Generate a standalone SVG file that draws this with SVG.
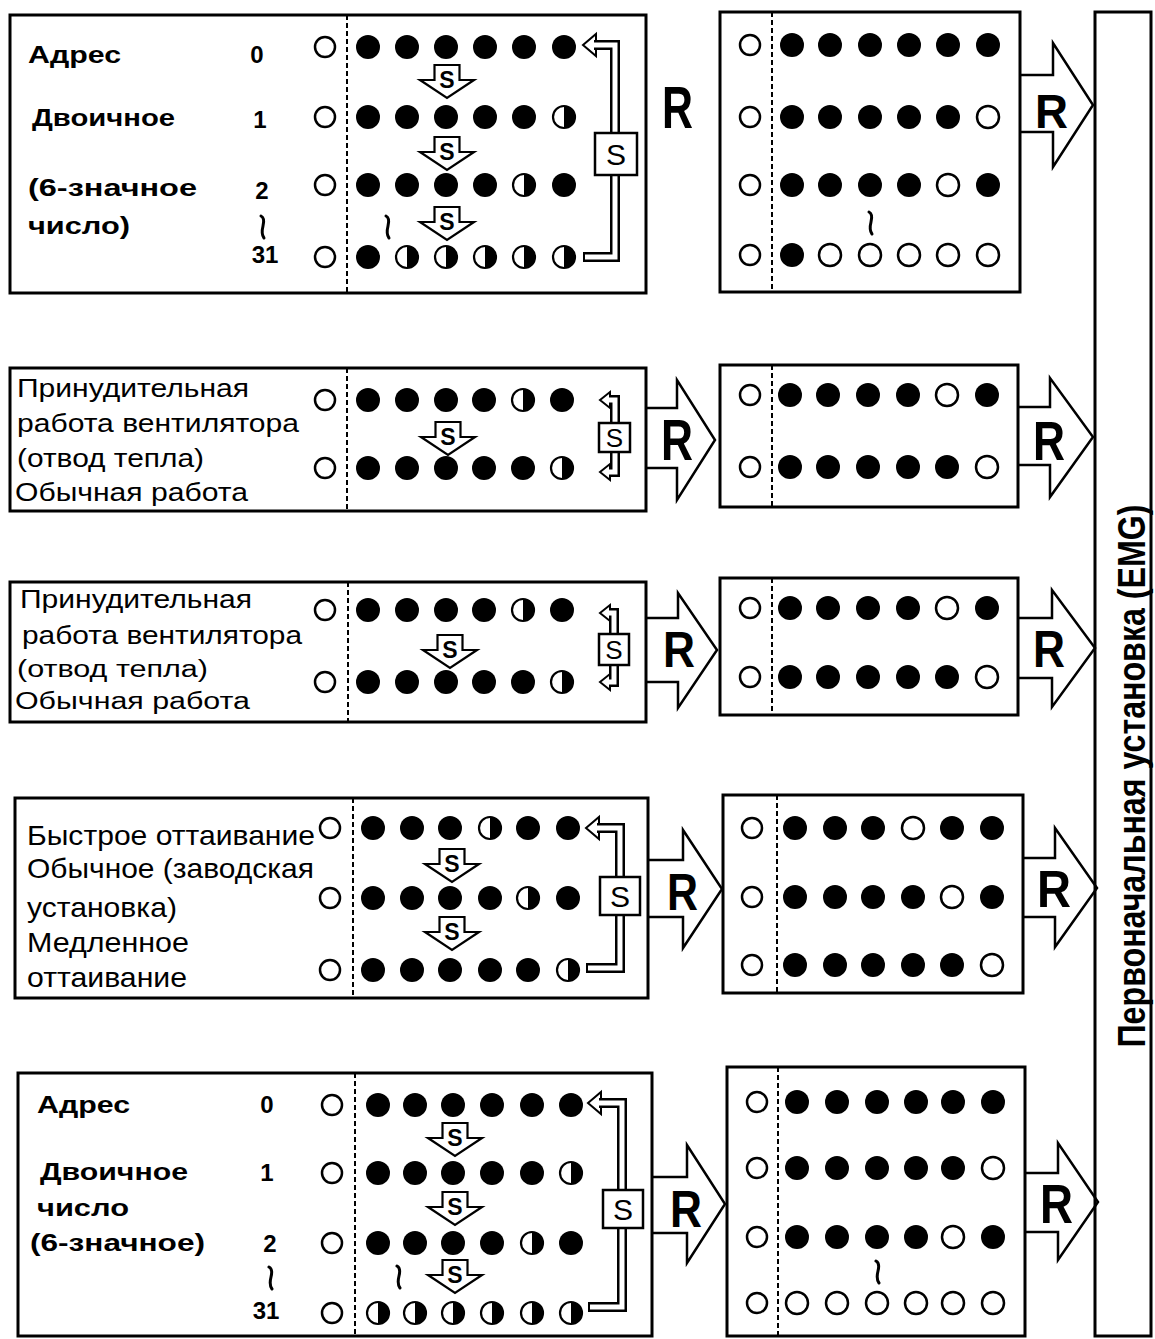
<svg xmlns="http://www.w3.org/2000/svg" xmlns:xlink="http://www.w3.org/1999/xlink" width="1155" height="1339" viewBox="0 0 1155 1339">
<style>
.box{fill:none;stroke:#000;stroke-width:3}
.sep{stroke:#000;stroke-width:2;stroke-dasharray:5 3}
.arr{fill:#fff;stroke:#000;stroke-width:2.5;stroke-linejoin:miter}
.bk{fill:none;stroke:#000;stroke-width:10}
.bw{fill:none;stroke:#fff;stroke-width:5}
.ah{fill:#fff;stroke:#000;stroke-width:2}
.sbox{fill:#fff;stroke:#000;stroke-width:2.5}
.sq{fill:none;stroke:#000;stroke-width:3;stroke-linecap:round}
.b{font-family:"Liberation Sans",Arial,sans-serif;font-weight:bold;fill:#000}
.n{font-family:"Liberation Sans",Arial,sans-serif;font-weight:normal;fill:#000}
.r{font-family:"Liberation Sans",Arial,sans-serif;font-weight:bold;fill:#000}
</style>
<defs>
<circle id="f" r="12" fill="#000"/>
<circle id="o" r="10" fill="#fff" stroke="#000" stroke-width="2.5"/>
<circle id="om" r="11" fill="#fff" stroke="#000" stroke-width="2.5"/>
<g id="h"><circle r="11" fill="#fff" stroke="#000" stroke-width="2.2"/><path d="M0,-11 A11,11 0 0 1 0,11 Z" fill="#000"/></g>
<g id="sd"><path d="M-12.5,0 H12.5 V15 H27 L0,33 L-27,15 H-12.5 Z" fill="#fff" stroke="#000" stroke-width="2.2"/><text x="0" y="23" class="b" font-size="23" text-anchor="middle">S</text></g>
</defs>

<g id="connectors">
<path class="arr" d="M1020,75 H1053 V43 L1093,105 L1053,167 V132 H1020"/>
<path class="arr" d="M646,408 H677 V380 L715,440 L677,500 V468 H646"/>
<path class="arr" d="M1018,407 H1050 V378 L1093,437 L1050,497 V465 H1018"/>
<path class="arr" d="M646,618 H678 V593 L717,650 L678,708 V682 H646"/>
<path class="arr" d="M1018,618 H1052 V590 L1095,648 L1052,707 V678 H1018"/>
<path class="arr" d="M648,860 H683 V830 L722,889 L683,948 V917 H648"/>
<path class="arr" d="M1023,858 H1055 V828 L1097,888 L1055,947 V917 H1023"/>
<path class="arr" d="M652,1177 H687 V1145 L725,1204 L687,1263 V1233 H652"/>
<path class="arr" d="M1025,1173 H1058 V1143 L1098,1202 L1058,1260 V1232 H1025"/>
<text class="r" x="662" y="128" font-size="60" textLength="31" lengthAdjust="spacingAndGlyphs">R</text>
<text class="r" x="1035" y="128" font-size="49" textLength="33" lengthAdjust="spacingAndGlyphs">R</text>
<text class="r" x="661" y="460" font-size="58" textLength="32" lengthAdjust="spacingAndGlyphs">R</text>
<text class="r" x="1033" y="460" font-size="56" textLength="32" lengthAdjust="spacingAndGlyphs">R</text>
<text class="r" x="663" y="667" font-size="50" textLength="32" lengthAdjust="spacingAndGlyphs">R</text>
<text class="r" x="1033" y="667" font-size="52" textLength="32" lengthAdjust="spacingAndGlyphs">R</text>
<text class="r" x="667" y="910" font-size="52" textLength="31" lengthAdjust="spacingAndGlyphs">R</text>
<text class="r" x="1037" y="907" font-size="52" textLength="34" lengthAdjust="spacingAndGlyphs">R</text>
<text class="r" x="670" y="1227" font-size="52" textLength="32" lengthAdjust="spacingAndGlyphs">R</text>
<text class="r" x="1040" y="1223" font-size="56" textLength="33" lengthAdjust="spacingAndGlyphs">R</text>
</g>

<g id="emg">
<rect class="box" x="1095" y="12" width="56" height="1324"/>
<text class="b" transform="translate(1145,776) rotate(-90)" font-size="38" text-anchor="middle" textLength="543" lengthAdjust="spacingAndGlyphs">Первоначальная установка (EMG)</text>
</g>

<g id="row1-left">
<rect class="box" x="10" y="15" width="636" height="278"/>
<line class="sep" x1="347" y1="15" x2="347" y2="293"/>
<text class="b" x="28" y="63" font-size="24" textLength="93" lengthAdjust="spacingAndGlyphs">Адрес</text>
<text class="b" x="32" y="126" font-size="24" textLength="143" lengthAdjust="spacingAndGlyphs">Двоичное</text>
<text class="b" x="28" y="196" font-size="24" textLength="169" lengthAdjust="spacingAndGlyphs">(6-значное</text>
<text class="b" x="28" y="234" font-size="24" textLength="102" lengthAdjust="spacingAndGlyphs">число)</text>
<text class="b" x="257" y="63" font-size="24" text-anchor="middle">0</text>
<text class="b" x="260" y="128" font-size="24" text-anchor="middle">1</text>
<text class="b" x="262" y="199" font-size="24" text-anchor="middle">2</text>
<text class="b" x="265" y="263" font-size="24" text-anchor="middle">31</text>
<path class="sq" d="M261,216 q4,2 2,10 q-2,8 1,12"/>
<path class="sq" d="M386,216 q4,2 2,10 q-2,8 1,12"/>
<use href="#o" x="325" y="47"/><use href="#o" x="325" y="117"/><use href="#o" x="325" y="185"/><use href="#o" x="325" y="257"/>
<use href="#f" x="368" y="47"/><use href="#f" x="407" y="47"/><use href="#f" x="446" y="47"/><use href="#f" x="485" y="47"/><use href="#f" x="524" y="47"/><use href="#f" x="564" y="47"/>
<use href="#f" x="368" y="117"/><use href="#f" x="407" y="117"/><use href="#f" x="446" y="117"/><use href="#f" x="485" y="117"/><use href="#f" x="524" y="117"/><use href="#h" x="564" y="117"/>
<use href="#f" x="368" y="185"/><use href="#f" x="407" y="185"/><use href="#f" x="446" y="185"/><use href="#f" x="485" y="185"/><use href="#h" x="524" y="185"/><use href="#f" x="564" y="185"/>
<use href="#f" x="368" y="257"/><use href="#h" x="407" y="257"/><use href="#h" x="446" y="257"/><use href="#h" x="485" y="257"/><use href="#h" x="524" y="257"/><use href="#h" x="564" y="257"/>
<use href="#sd" x="447" y="65"/><use href="#sd" x="447" y="137"/><use href="#sd" x="447" y="207"/>
<path class="ah" d="M583,45 L596,34 V56 Z"/>
<path class="bk" d="M594,45 H615 V257 H583"/>
<path class="bw" d="M594,45 H615 V257 H585"/>
<rect class="sbox" x="595" y="133" width="42" height="42"/>
<text class="n" x="616" y="165" font-size="30" text-anchor="middle">S</text>
</g>

<g id="row1-mid">
<rect class="box" x="720" y="12" width="300" height="280"/>
<line class="sep" x1="772" y1="12" x2="772" y2="292"/>
<path class="sq" d="M869,212 q4,2 2,10 q-2,8 1,12"/>
<use href="#o" x="750" y="45"/><use href="#o" x="750" y="117"/><use href="#o" x="750" y="185"/><use href="#o" x="750" y="255"/>
<use href="#f" x="792" y="45"/><use href="#f" x="830" y="45"/><use href="#f" x="870" y="45"/><use href="#f" x="909" y="45"/><use href="#f" x="948" y="45"/><use href="#f" x="988" y="45"/>
<use href="#f" x="792" y="117"/><use href="#f" x="830" y="117"/><use href="#f" x="870" y="117"/><use href="#f" x="909" y="117"/><use href="#f" x="948" y="117"/><use href="#om" x="988" y="117"/>
<use href="#f" x="792" y="185"/><use href="#f" x="830" y="185"/><use href="#f" x="870" y="185"/><use href="#f" x="909" y="185"/><use href="#om" x="948" y="185"/><use href="#f" x="988" y="185"/>
<use href="#f" x="792" y="255"/><use href="#om" x="830" y="255"/><use href="#om" x="870" y="255"/><use href="#om" x="909" y="255"/><use href="#om" x="948" y="255"/><use href="#om" x="988" y="255"/>
</g>

<g id="row2-left">
<rect class="box" x="10" y="368" width="636" height="143"/>
<line class="sep" x1="347" y1="368" x2="347" y2="511"/>
<text class="n" x="17" y="397" font-size="25" textLength="232" lengthAdjust="spacingAndGlyphs">Принудительная</text>
<text class="n" x="17" y="432" font-size="25" textLength="282" lengthAdjust="spacingAndGlyphs">работа вентилятора</text>
<text class="n" x="17" y="467" font-size="25" textLength="187" lengthAdjust="spacingAndGlyphs">(отвод тепла)</text>
<text class="n" x="15" y="501" font-size="25" textLength="233" lengthAdjust="spacingAndGlyphs">Обычная работа</text>
<use href="#o" x="325" y="400"/><use href="#o" x="325" y="468"/>
<use href="#f" x="368" y="400"/><use href="#f" x="407" y="400"/><use href="#f" x="446" y="400"/><use href="#f" x="484" y="400"/><use href="#h" x="523" y="400"/><use href="#f" x="562" y="400"/>
<use href="#f" x="368" y="468"/><use href="#f" x="407" y="468"/><use href="#f" x="446" y="468"/><use href="#f" x="484" y="468"/><use href="#f" x="523" y="468"/><use href="#h" x="562" y="468"/>
<use href="#sd" x="448" y="422"/>
<path class="ah" d="M600,400 L610,392 V408 Z"/>
<path class="bk" d="M609,400 H615 V424"/>
<path class="bw" d="M609,400 H615 V424"/>
<path class="ah" d="M600,472 L610,464 V480 Z"/>
<path class="bk" d="M615,451 V472 H609"/>
<path class="bw" d="M615,451 V472 H609"/>
<rect class="sbox" x="599" y="423" width="31" height="29"/>
<text class="n" x="614.5" y="447" font-size="26" text-anchor="middle">S</text>
</g>

<g id="row2-mid">
<rect class="box" x="720" y="365" width="298" height="142"/>
<line class="sep" x1="772" y1="365" x2="772" y2="507"/>
<use href="#o" x="750" y="395"/><use href="#o" x="750" y="467"/>
<use href="#f" x="790" y="395"/><use href="#f" x="828" y="395"/><use href="#f" x="868" y="395"/><use href="#f" x="908" y="395"/><use href="#om" x="947" y="395"/><use href="#f" x="987" y="395"/>
<use href="#f" x="790" y="467"/><use href="#f" x="828" y="467"/><use href="#f" x="868" y="467"/><use href="#f" x="908" y="467"/><use href="#f" x="947" y="467"/><use href="#om" x="987" y="467"/>
</g>

<g id="row3-left">
<rect class="box" x="10" y="582" width="636" height="140"/>
<line class="sep" x1="348" y1="582" x2="348" y2="722"/>
<text class="n" x="20" y="608" font-size="25" textLength="232" lengthAdjust="spacingAndGlyphs">Принудительная</text>
<text class="n" x="22" y="644" font-size="25" textLength="280" lengthAdjust="spacingAndGlyphs">работа вентилятора</text>
<text class="n" x="17" y="677" font-size="23" textLength="191" lengthAdjust="spacingAndGlyphs">(отвод тепла)</text>
<text class="n" x="15" y="709" font-size="23" textLength="235" lengthAdjust="spacingAndGlyphs">Обычная работа</text>
<use href="#o" x="325" y="610"/><use href="#o" x="325" y="682"/>
<use href="#f" x="368" y="610"/><use href="#f" x="407" y="610"/><use href="#f" x="446" y="610"/><use href="#f" x="484" y="610"/><use href="#h" x="523" y="610"/><use href="#f" x="562" y="610"/>
<use href="#f" x="368" y="682"/><use href="#f" x="407" y="682"/><use href="#f" x="446" y="682"/><use href="#f" x="484" y="682"/><use href="#f" x="523" y="682"/><use href="#h" x="562" y="682"/>
<use href="#sd" x="450" y="635"/>
<path class="ah" d="M600,613 L610,605 V621 Z"/>
<path class="bk" d="M609,613 H614 V635"/>
<path class="bw" d="M609,613 H614 V635"/>
<path class="ah" d="M600,682 L610,674 V690 Z"/>
<path class="bk" d="M614,664 V682 H609"/>
<path class="bw" d="M614,664 V682 H609"/>
<rect class="sbox" x="599" y="634" width="30" height="31"/>
<text class="n" x="614" y="659" font-size="26" text-anchor="middle">S</text>
</g>

<g id="row3-mid">
<rect class="box" x="720" y="578" width="298" height="137"/>
<line class="sep" x1="772" y1="578" x2="772" y2="715"/>
<use href="#o" x="750" y="608"/><use href="#o" x="750" y="677"/>
<use href="#f" x="790" y="608"/><use href="#f" x="828" y="608"/><use href="#f" x="868" y="608"/><use href="#f" x="908" y="608"/><use href="#om" x="947" y="608"/><use href="#f" x="987" y="608"/>
<use href="#f" x="790" y="677"/><use href="#f" x="828" y="677"/><use href="#f" x="868" y="677"/><use href="#f" x="908" y="677"/><use href="#f" x="947" y="677"/><use href="#om" x="987" y="677"/>
</g>

<g id="row4-left">
<rect class="box" x="15" y="798" width="633" height="200"/>
<line class="sep" x1="353" y1="798" x2="353" y2="998"/>
<text class="n" x="27" y="845" font-size="28" textLength="288" lengthAdjust="spacingAndGlyphs">Быстрое оттаивание</text>
<text class="n" x="27" y="878" font-size="28" textLength="287" lengthAdjust="spacingAndGlyphs">Обычное (заводская</text>
<text class="n" x="27" y="917" font-size="28" textLength="150" lengthAdjust="spacingAndGlyphs">установка)</text>
<text class="n" x="27" y="952" font-size="28" textLength="162" lengthAdjust="spacingAndGlyphs">Медленное</text>
<text class="n" x="27" y="987" font-size="28" textLength="160" lengthAdjust="spacingAndGlyphs">оттаивание</text>
<use href="#o" x="330" y="828"/><use href="#o" x="330" y="898"/><use href="#o" x="330" y="970"/>
<use href="#f" x="373" y="828"/><use href="#f" x="412" y="828"/><use href="#f" x="450" y="828"/><use href="#h" x="490" y="828"/><use href="#f" x="528" y="828"/><use href="#f" x="568" y="828"/>
<use href="#f" x="373" y="898"/><use href="#f" x="412" y="898"/><use href="#f" x="450" y="898"/><use href="#f" x="490" y="898"/><use href="#h" x="528" y="898"/><use href="#f" x="568" y="898"/>
<use href="#f" x="373" y="970"/><use href="#f" x="412" y="970"/><use href="#f" x="450" y="970"/><use href="#f" x="490" y="970"/><use href="#f" x="528" y="970"/><use href="#h" x="568" y="970"/>
<use href="#sd" x="452" y="849"/><use href="#sd" x="452" y="917"/>
<path class="ah" d="M586,828 L599,817 V839 Z"/>
<path class="bk" d="M597,828 H620 V968 H586"/>
<path class="bw" d="M597,828 H620 V968 H588"/>
<rect class="sbox" x="600" y="877" width="40" height="38"/>
<text class="n" x="620" y="907" font-size="30" text-anchor="middle">S</text>
</g>

<g id="row4-mid">
<rect class="box" x="723" y="795" width="300" height="198"/>
<line class="sep" x1="777" y1="795" x2="777" y2="993"/>
<use href="#o" x="752" y="828"/><use href="#o" x="752" y="897"/><use href="#o" x="752" y="965"/>
<use href="#f" x="795" y="828"/><use href="#f" x="835" y="828"/><use href="#f" x="873" y="828"/><use href="#om" x="913" y="828"/><use href="#f" x="952" y="828"/><use href="#f" x="992" y="828"/>
<use href="#f" x="795" y="897"/><use href="#f" x="835" y="897"/><use href="#f" x="873" y="897"/><use href="#f" x="913" y="897"/><use href="#om" x="952" y="897"/><use href="#f" x="992" y="897"/>
<use href="#f" x="795" y="965"/><use href="#f" x="835" y="965"/><use href="#f" x="873" y="965"/><use href="#f" x="913" y="965"/><use href="#f" x="952" y="965"/><use href="#om" x="992" y="965"/>
</g>

<g id="row5-left">
<rect class="box" x="18" y="1073" width="634" height="263"/>
<line class="sep" x1="355" y1="1073" x2="355" y2="1336"/>
<text class="b" x="37" y="1113" font-size="24" textLength="93" lengthAdjust="spacingAndGlyphs">Адрес</text>
<text class="b" x="40" y="1180" font-size="24" textLength="148" lengthAdjust="spacingAndGlyphs">Двоичное</text>
<text class="b" x="37" y="1216" font-size="24" textLength="92" lengthAdjust="spacingAndGlyphs">число</text>
<text class="b" x="30" y="1251" font-size="24" textLength="175" lengthAdjust="spacingAndGlyphs">(6-значное)</text>
<text class="b" x="267" y="1113" font-size="24" text-anchor="middle">0</text>
<text class="b" x="267" y="1181" font-size="24" text-anchor="middle">1</text>
<text class="b" x="270" y="1252" font-size="24" text-anchor="middle">2</text>
<text class="b" x="266" y="1319" font-size="24" text-anchor="middle">31</text>
<path class="sq" d="M269,1267 q4,2 2,10 q-2,8 1,12"/>
<path class="sq" d="M397,1266 q4,2 2,10 q-2,8 1,12"/>
<use href="#o" x="332" y="1105"/><use href="#o" x="332" y="1173"/><use href="#o" x="332" y="1243"/><use href="#o" x="332" y="1313"/>
<use href="#f" x="378" y="1105"/><use href="#f" x="415" y="1105"/><use href="#f" x="453" y="1105"/><use href="#f" x="492" y="1105"/><use href="#f" x="532" y="1105"/><use href="#f" x="571" y="1105"/>
<use href="#f" x="378" y="1173"/><use href="#f" x="415" y="1173"/><use href="#f" x="453" y="1173"/><use href="#f" x="492" y="1173"/><use href="#f" x="532" y="1173"/><use href="#h" x="571" y="1173"/>
<use href="#f" x="378" y="1243"/><use href="#f" x="415" y="1243"/><use href="#f" x="453" y="1243"/><use href="#f" x="492" y="1243"/><use href="#h" x="532" y="1243"/><use href="#f" x="571" y="1243"/>
<use href="#h" x="378" y="1313"/><use href="#h" x="415" y="1313"/><use href="#h" x="453" y="1313"/><use href="#h" x="492" y="1313"/><use href="#h" x="532" y="1313"/><use href="#h" x="571" y="1313"/>
<use href="#sd" x="455" y="1123"/><use href="#sd" x="455" y="1192"/><use href="#sd" x="455" y="1260"/>
<path class="ah" d="M588,1103 L601,1092 V1114 Z"/>
<path class="bk" d="M599,1103 H622 V1307 H588"/>
<path class="bw" d="M599,1103 H622 V1307 H590"/>
<rect class="sbox" x="603" y="1190" width="40" height="38"/>
<text class="n" x="623" y="1220" font-size="30" text-anchor="middle">S</text>
</g>

<g id="row5-mid">
<rect class="box" x="727" y="1067" width="298" height="269"/>
<line class="sep" x1="778" y1="1067" x2="778" y2="1336"/>
<path class="sq" d="M876,1261 q4,2 2,10 q-2,8 1,12"/>
<use href="#o" x="757" y="1102"/><use href="#o" x="757" y="1168"/><use href="#o" x="757" y="1237"/><use href="#o" x="757" y="1303"/>
<use href="#f" x="797" y="1102"/><use href="#f" x="837" y="1102"/><use href="#f" x="877" y="1102"/><use href="#f" x="916" y="1102"/><use href="#f" x="953" y="1102"/><use href="#f" x="993" y="1102"/>
<use href="#f" x="797" y="1168"/><use href="#f" x="837" y="1168"/><use href="#f" x="877" y="1168"/><use href="#f" x="916" y="1168"/><use href="#f" x="953" y="1168"/><use href="#om" x="993" y="1168"/>
<use href="#f" x="797" y="1237"/><use href="#f" x="837" y="1237"/><use href="#f" x="877" y="1237"/><use href="#f" x="916" y="1237"/><use href="#om" x="953" y="1237"/><use href="#f" x="993" y="1237"/>
<use href="#om" x="797" y="1303"/><use href="#om" x="837" y="1303"/><use href="#om" x="877" y="1303"/><use href="#om" x="916" y="1303"/><use href="#om" x="953" y="1303"/><use href="#om" x="993" y="1303"/>
</g>
</svg>
